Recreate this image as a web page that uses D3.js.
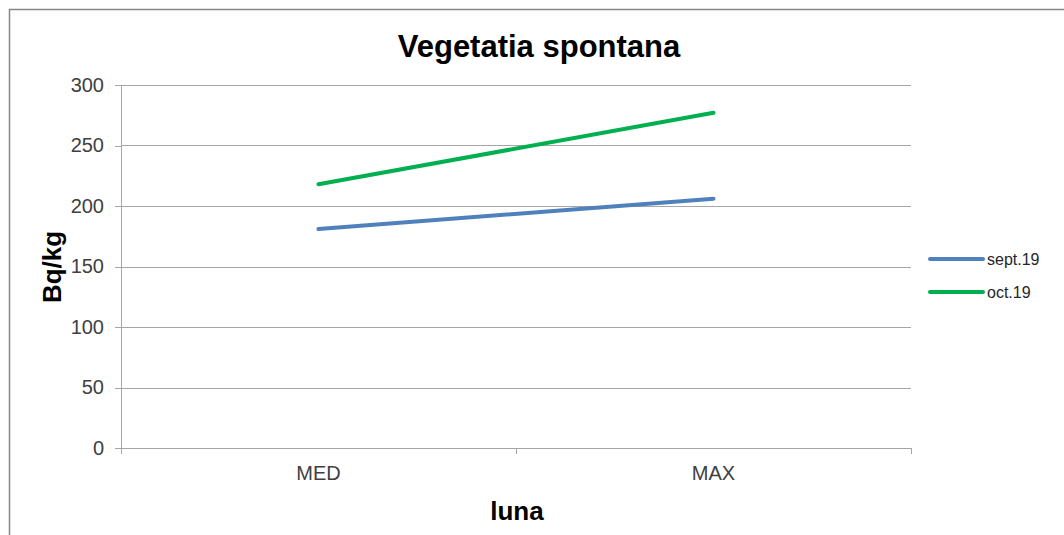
<!DOCTYPE html>
<meta charset="utf-8">
<style>
	body { margin: 0; background: #fff; }
	text { font-family: "Liberation Sans", Arial, sans-serif; }
	.axis path, .axis line { stroke: #a6a6a6; shape-rendering: crispEdges; }
	.axis text { fill: #404040; font-size: 20px; }
	.grid line { stroke: #a6a6a6; shape-rendering: crispEdges; }
</style>

<div class="chart"></div>

<script src="https://d3js.org/d3.v7.min.js"></script>

<script>
	var categories = ["MED", "MAX"];
	var seriesNames = ["sept.19", "oct.19"];
	var sept19 = [181, 206];
	var oct19 = [218, 277];
	var yTicks = [0, 50, 100, 150, 200, 250, 300];
	var colors = ["#4f81bd", "#00b050"];

	var series = [
		{ name: seriesNames[0], values: sept19, color: colors[0] },
		{ name: seriesNames[1], values: oct19, color: colors[1] }
	];

	var margin = {top: 85, left: 121},
			width = 790,
			height = 363;

	var svg = d3.select(".chart")
			.append("svg")
			.attr("width", 1064)
			.attr("height", 535);

	// outer frame
	svg.append("rect")
			.attr("x", 9.5).attr("y", 9.5)
			.attr("width", 1100).attr("height", 600)
			.attr("fill", "none")
			.attr("stroke", "#878787")
			.attr("stroke-width", 1.5);

	var g = svg.append("g")
			.attr("transform", "translate(" + margin.left + "," + margin.top + ")");

	var xScale = d3.scaleBand()
			.domain(categories)
			.range([0, width]);

	var yScale = d3.scaleLinear()
			.domain([0, 300])
			.range([height, 0]);

	// gridlines
	g.append("g")
			.attr("class", "grid")
			.selectAll("line")
			.data(yTicks.filter(function(d) { return d > 0; }))
			.enter().append("line")
			.attr("x1", 0).attr("x2", width)
			.attr("y1", function(d) { return Math.round(yScale(d)) + 0.5; })
			.attr("y2", function(d) { return Math.round(yScale(d)) + 0.5; });

	var yAxis = g.append("g")
			.attr("class", "axis")
			.call(d3.axisLeft(yScale).tickValues(yTicks).tickSize(6).tickPadding(11).tickSizeOuter(0));

	var xAxis = g.append("g")
			.attr("class", "axis")
			.attr("transform", "translate(0," + height + ")")
			.call(d3.axisBottom(xScale).tickSize(0).tickPadding(18));
	xAxis.select(".domain").attr("d", "M-6,0.5H" + width);

	// category boundary ticks
	xAxis.selectAll(".bound")
			.data([0, width / 2, width])
			.enter().append("line")
			.attr("class", "bound")
			.attr("x1", function(d) { return d; })
			.attr("x2", function(d) { return d; })
			.attr("y1", 0).attr("y2", 6);

	var line = d3.line()
			.x(function(d, i) { return xScale(categories[i]) + xScale.bandwidth() / 2; })
			.y(function(d) { return yScale(d); });

	g.selectAll(".series")
			.data(series)
			.enter().append("path")
			.attr("class", "series")
			.attr("d", function(d) { return line(d.values); })
			.attr("fill", "none")
			.attr("stroke", function(d) { return d.color; })
			.attr("stroke-width", 4)
			.attr("stroke-linecap", "round");

	// titles
	svg.append("text")
			.attr("x", 539).attr("y", 57)
			.attr("text-anchor", "middle")
			.style("font-size", "31px")
			.style("font-weight", "bold")
			.text("Vegetatia spontana");

	svg.append("text")
			.attr("transform", "translate(61,267) rotate(-90)")
			.attr("text-anchor", "middle")
			.style("font-size", "26px")
			.style("font-weight", "bold")
			.text("Bq/kg");

	svg.append("text")
			.attr("x", 517).attr("y", 520)
			.attr("text-anchor", "middle")
			.style("font-size", "26px")
			.style("font-weight", "bold")
			.text("luna");

	// legend
	var legend = svg.selectAll(".legend")
			.data(series)
			.enter().append("g")
			.attr("class", "legend")
			.attr("transform", function(d, i) { return "translate(930," + (259 + i * 33) + ")"; });

	legend.append("line")
			.attr("x1", 0).attr("x2", 53)
			.attr("stroke", function(d) { return d.color; })
			.attr("stroke-width", 4)
			.attr("stroke-linecap", "round");

	legend.append("text")
			.attr("x", 57).attr("y", 6)
			.style("font-size", "16px")
			.attr("fill", "#262626")
			.text(function(d) { return d.name; });
</script>
